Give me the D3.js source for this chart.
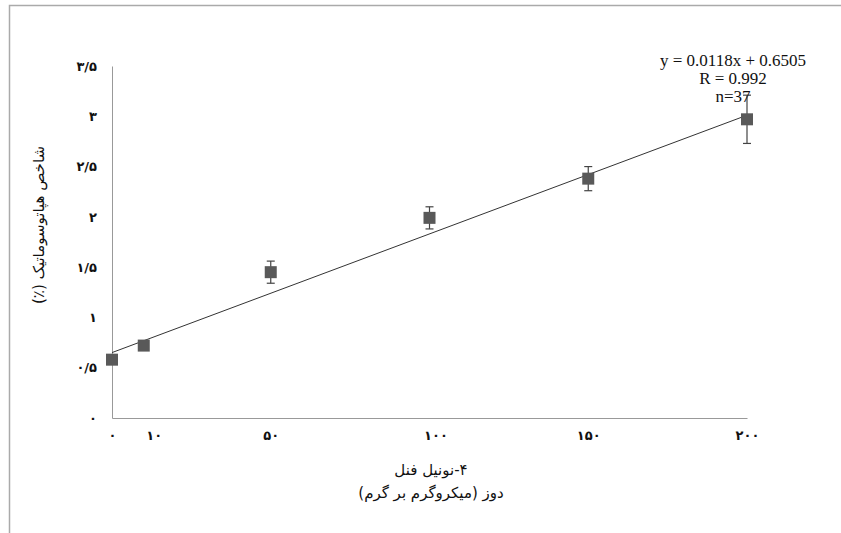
<!DOCTYPE html>
<html>
<head>
<meta charset="utf-8">
<script src="https://cdn.jsdelivr.net/npm/d3@7"></script>
<style>
  body { margin: 0; background: #fff; }
  svg { display: block; }
</style>
</head>
<body>
<svg id="chart"></svg>
<script>
// data
let doses = [0, 10, 50, 100, 150, 200];
let hsi = [0.58, 0.72, 1.45, 1.99, 2.38, 2.97];
let errs = [0, 0, 0.11, 0.11, 0.12, 0.24];
let yTicks = [0, 0.5, 1, 1.5, 2, 2.5, 3, 3.5];
let yTickLabels = ["۰", "۰/۵", "۱", "۱/۵", "۲", "۲/۵", "۳", "۳/۵"];
let xTickLabels = ["۰", "۱۰", "۵۰", "۱۰۰", "۱۵۰", "۲۰۰"];
let slope = 0.0118, intercept = 0.6505;
let eqLines = ["y = 0.0118x + 0.6505", "R = 0.992", "n=37"];

let width = 841, height = 533;
let margin = {top: 66, right: 94, bottom: 115, left: 112};

let svg = d3.select("#chart")
  .attr("width", width)
  .attr("height", height);

// outer frame (only left and top visible)
svg.append("path")
  .attr("d", "M9.5," + height + "V5.5H" + width)
  .attr("fill", "none")
  .attr("stroke", "#aaa")
  .attr("stroke-width", 1.5);

let x = d3.scaleLinear()
  .domain([0, 200])
  .range([margin.left, width - margin.right]);

let y = d3.scaleLinear()
  .domain([0, 3.5])
  .range([height - margin.bottom, margin.top]);

// axes
let xAxis = svg.append("g")
  .attr("transform", "translate(0," + y(0) + ")")
  .call(d3.axisBottom(x)
    .tickValues(doses)
    .tickSize(0)
    .tickPadding(13)
    .tickFormat((d, i) => xTickLabels[i]));

xAxis.select(".domain").attr("stroke", "#999");
xAxis.selectAll("text")
  .attr("font-family", "DejaVu Sans")
  .attr("font-size", 13)
  .attr("font-weight", "bold")
  .attr("fill", "#111")
  .attr("dx", (d) => d === 10 ? 10 : (d === 100 ? 6 : 0));

let yAxis = svg.append("g")
  .attr("transform", "translate(" + x(0) + ",0)")
  .call(d3.axisLeft(y)
    .tickValues(yTicks)
    .tickSize(0)
    .tickPadding(15)
    .tickFormat((d, i) => yTickLabels[i]));

yAxis.select(".domain").attr("stroke", "#999");
yAxis.selectAll("text")
  .attr("font-family", "DejaVu Sans")
  .attr("font-size", 13)
  .attr("font-weight", "bold")
  .attr("fill", "#111");

// trend line
svg.append("line")
  .attr("x1", x(0))
  .attr("y1", y(intercept))
  .attr("x2", x(200))
  .attr("y2", y(slope * 200 + intercept))
  .attr("stroke", "#333")
  .attr("stroke-width", 1);

let points = doses.map((d, i) => ({dose: d, v: hsi[i], e: errs[i]}));

// error bars
let eb = svg.append("g").selectAll("g")
  .data(points.filter(d => d.e > 0))
  .enter().append("g")
  .attr("stroke", "#444")
  .attr("stroke-width", 1.2);

eb.append("line")
  .attr("x1", d => x(d.dose)).attr("x2", d => x(d.dose))
  .attr("y1", d => y(d.v + d.e)).attr("y2", d => y(d.v - d.e));
eb.append("line")
  .attr("x1", d => x(d.dose) - 4).attr("x2", d => x(d.dose) + 4)
  .attr("y1", d => y(d.v + d.e)).attr("y2", d => y(d.v + d.e));
eb.append("line")
  .attr("x1", d => x(d.dose) - 4).attr("x2", d => x(d.dose) + 4)
  .attr("y1", d => y(d.v - d.e)).attr("y2", d => y(d.v - d.e));

// markers
svg.append("g").selectAll("rect")
  .data(points)
  .enter().append("rect")
  .attr("x", d => x(d.dose) - 6)
  .attr("y", d => y(d.v) - 6)
  .attr("width", 12)
  .attr("height", 12)
  .attr("fill", "#595959");

// regression label
svg.append("g").selectAll("text")
  .data(eqLines)
  .enter().append("text")
  .attr("x", 733)
  .attr("y", (d, i) => 66 + i * 18)
  .attr("text-anchor", "middle")
  .attr("font-family", "Liberation Serif")
  .attr("font-size", 17)
  .attr("fill", "#111")
  .text(d => d);

// axis titles (right-to-left text)
svg.append("text")
  .attr("transform", "translate(44,225) rotate(-90)")
  .attr("direction", "rtl")
  .attr("text-anchor", "middle")
  .attr("font-family", "DejaVu Sans")
  .attr("font-size", 15)
  .attr("fill", "#111")
  .text("شاخص هپاتوسوماتیک (٪)");

svg.append("text")
  .attr("x", 431)
  .attr("y", 475)
  .attr("direction", "rtl")
  .attr("text-anchor", "middle")
  .attr("font-family", "DejaVu Sans")
  .attr("font-size", 15)
  .attr("fill", "#111")
  .text("۴-نونیل فنل");

svg.append("text")
  .attr("x", 431)
  .attr("y", 498)
  .attr("direction", "rtl")
  .attr("text-anchor", "middle")
  .attr("font-family", "DejaVu Sans")
  .attr("font-size", 15)
  .attr("fill", "#111")
  .text("دوز (میکروگرم بر گرم)");
</script>
</body>
</html>
